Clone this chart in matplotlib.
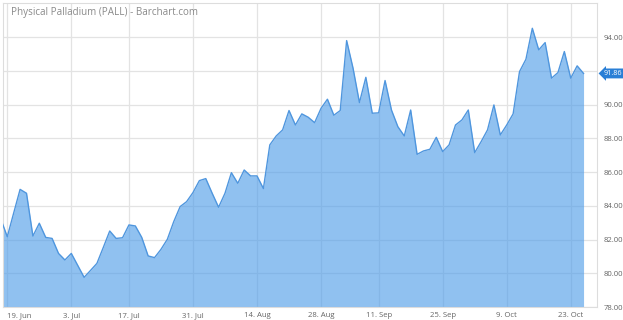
import matplotlib
matplotlib.use("Agg")
import matplotlib.pyplot as plt
import pandas as pd
import numpy as np

# Trading days (ordinal axis, holidays removed)
holidays = ["2017-07-04", "2017-09-04"]
dates = [d for d in pd.bdate_range("2017-06-16", "2017-10-25") if d.strftime("%Y-%m-%d") not in holidays]

prices = [
    83.20, 82.17, 83.58, 84.98, 84.75, 82.21, 82.97, 82.13, 82.07, 81.18,
    80.79, 81.18, 80.47, 79.76, 80.17, 80.59, 81.54, 82.51, 82.07, 82.11,
    82.87, 82.81, 82.13, 81.03, 80.93, 81.42, 82.02, 83.07, 83.96, 84.25,
    84.79, 85.50, 85.62, 84.75, 83.92, 84.75, 85.97, 85.34, 86.13, 85.78,
    85.78, 85.03, 87.62, 88.15, 88.51, 89.66, 88.80, 89.46, 89.26, 88.94,
    89.79, 90.33, 89.38, 89.66, 93.81, 92.17, 90.13, 91.63, 89.50, 89.52,
    91.44, 89.69, 88.70, 88.15, 89.69, 87.06, 87.26, 87.36, 88.07, 87.22,
    87.62, 88.80, 89.10, 89.69, 87.16, 87.81, 88.51, 89.99, 88.21, 88.80,
    89.46, 91.97, 92.70, 94.54, 93.26, 93.69, 91.58, 91.91, 93.16, 91.58,
    92.31, 91.86,
]

tick_dates = ["2017-06-19", "2017-07-03", "2017-07-17", "2017-07-31", "2017-08-14",
              "2017-08-28", "2017-09-11", "2017-09-25", "2017-10-09", "2017-10-23"]
tick_labels = ["19. Jun", "3. Jul", "17. Jul", "31. Jul", "14. Aug",
               "28. Aug", "11. Sep", "25. Sep", "9. Oct", "23. Oct"]
y_ticks = [78, 80, 82, 84, 86, 88, 90, 92, 94]
y_hidden = [92]  # covered by the last-price badge in the reference
title = "Physical Palladium (PALL) - Barchart.com"
last_label = "91.86"

plt.rcParams['font.family'] = ['Open Sans', 'DejaVu Sans']

W, H = 623, 320
fig = plt.figure(figsize=(W / 100, H / 100), dpi=100)
left, right, top, bottom = 3, 597, 3, 307
ax = fig.add_axes([left / W, 1 - bottom / H, (right - left) / W, (bottom - top) / H])

x = np.arange(len(prices))
date_str = [d.strftime("%Y-%m-%d") for d in dates]
tick_pos = [date_str.index(t) for t in tick_dates]

ax.fill_between(x, prices, 78, color='#4c9be8', alpha=0.62, lw=0, zorder=2)
ax.plot(x, prices, color='#4f96de', lw=1.0, zorder=3)

ax.set_xlim(0.33, 93.1)
ax.set_ylim(78, 96.04)

ax.set_xticks(tick_pos)
ax.set_xticklabels(tick_labels)
ax.set_yticks(y_ticks)
ax.set_yticklabels(["" if v in y_hidden else f"{v:.2f}" for v in y_ticks])
ax.yaxis.tick_right()
ax.tick_params(axis='y', length=0, pad=4.5, labelsize=5.6, labelcolor='#666666')
ax.tick_params(axis='x', length=0, pad=3.5, labelsize=5.6, labelcolor='#666666')
xl = ax.get_xticklabels()
xl[0].set_ha('left')

ax.grid(True, color='#e3e3e3', lw=0.9, zorder=1)
ax.set_axisbelow(True)

for s in ax.spines.values():
    s.set_color('#dddddd')
    s.set_linewidth(0.8)

fig.text(11 / W, 1 - 13 / H, title, fontsize=7.1, color='#8a8a8a', va='center', ha='left')

ax.annotate(last_label, xy=(1.0, prices[-1]), xycoords=('axes fraction', 'data'),
            xytext=(5.0, 0), textcoords='offset points', fontsize=5.2, color='white',
            va='center', ha='left', annotation_clip=False, zorder=10,
            bbox=dict(boxstyle='larrow,pad=0.2', fc='#2a7fd6', ec='none'))

fig.savefig("out.png", dpi=100)
